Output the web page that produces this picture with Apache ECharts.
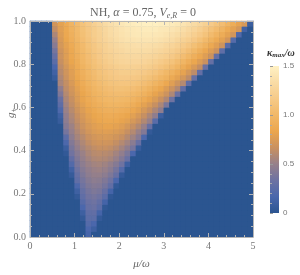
<!DOCTYPE html>
<html>
<head>
<meta charset="utf-8">
<script src="https://cdn.jsdelivr.net/npm/echarts@6/dist/echarts.min.js"></script>
<style>html,body{margin:0;padding:0;background:#fff}#c{width:300px;height:275px}</style>
</head>
<body>
<div id="c"></div>
<script>
// cell centres of the density grid
const muCenters = [0.0625,0.1875,0.3125,0.4375,0.5625,0.6875,0.8125,0.9375,1.0625,1.1875,1.3125,1.4375,1.5625,1.6875,1.8125,1.9375,2.0625,2.1875,2.3125,2.4375,2.5625,2.6875,2.8125,2.9375,3.0625,3.1875,3.3125,3.4375,3.5625,3.6875,3.8125,3.9375,4.0625,4.1875,4.3125,4.4375,4.5625,4.6875,4.8125,4.9375];
const gCenters = [0.0125,0.0375,0.0625,0.0875,0.1125,0.1375,0.1625,0.1875,0.2125,0.2375,0.2625,0.2875,0.3125,0.3375,0.3625,0.3875,0.4125,0.4375,0.4625,0.4875,0.5125,0.5375,0.5625,0.5875,0.6125,0.6375,0.6625,0.6875,0.7125,0.7375,0.7625,0.7875,0.8125,0.8375,0.8625,0.8875,0.9125,0.9375,0.9625,0.9875];
// first non-zero mu cell of every g row (cells outside are 0)
const rowStart = [10,10,10,9,9,9,9,8,8,8,8,7,7,7,7,6,6,6,6,6,6,5,5,5,5,5,5,5,5,4,4,4,4,4,4,4,4,4,4,4];
// kappa_max/omega, row by row from g=0 upwards
const kappaRows = [
[0.15],
[0.17,0.1],
[0.22,0.17],
[0.05,0.25,0.25,0.05],
[0.1,0.27,0.28,0.14],
[0.17,0.3,0.32,0.25,0.03],
[0.23,0.32,0.34,0.29,0.14],
[0.05,0.27,0.35,0.37,0.34,0.25,0.03],
[0.11,0.3,0.37,0.4,0.38,0.31,0.14],
[0.18,0.34,0.4,0.43,0.42,0.37,0.28,0.04],
[0.27,0.37,0.43,0.46,0.45,0.41,0.34,0.17],
[0.06,0.3,0.4,0.46,0.49,0.49,0.46,0.4,0.31,0.06],
[0.12,0.34,0.43,0.48,0.51,0.52,0.5,0.45,0.37,0.22],
[0.21,0.38,0.46,0.51,0.54,0.55,0.53,0.49,0.43,0.34,0.1],
[0.28,0.41,0.49,0.54,0.58,0.59,0.58,0.55,0.5,0.42,0.32],
[0.04,0.35,0.44,0.51,0.57,0.61,0.62,0.61,0.59,0.54,0.48,0.39,0.17],
[0.09,0.38,0.48,0.55,0.6,0.64,0.66,0.66,0.64,0.6,0.54,0.47,0.37,0.07],
[0.18,0.42,0.51,0.58,0.64,0.68,0.7,0.7,0.69,0.65,0.6,0.54,0.45,0.31],
[0.25,0.46,0.55,0.61,0.67,0.71,0.73,0.74,0.73,0.7,0.66,0.6,0.53,0.44,0.18],
[0.37,0.5,0.58,0.65,0.71,0.75,0.77,0.78,0.77,0.75,0.72,0.66,0.6,0.51,0.42,0.05],
[0.43,0.52,0.61,0.68,0.74,0.78,0.8,0.82,0.82,0.8,0.77,0.72,0.66,0.59,0.5,0.31],
[0.07,0.46,0.56,0.64,0.71,0.77,0.81,0.84,0.86,0.86,0.85,0.82,0.79,0.73,0.67,0.59,0.5,0.24],
[0.11,0.48,0.58,0.66,0.73,0.79,0.83,0.86,0.88,0.89,0.88,0.86,0.83,0.79,0.73,0.66,0.57,0.47,0.09],
[0.19,0.51,0.61,0.69,0.76,0.82,0.86,0.9,0.92,0.93,0.93,0.91,0.89,0.85,0.8,0.73,0.66,0.57,0.47],
[0.26,0.54,0.64,0.72,0.79,0.85,0.9,0.93,0.95,0.97,0.97,0.96,0.94,0.91,0.86,0.8,0.74,0.66,0.57,0.39],
[0.31,0.57,0.66,0.75,0.82,0.88,0.92,0.96,0.99,1.0,1.01,1.0,0.99,0.96,0.92,0.88,0.82,0.75,0.67,0.58,0.34],
[0.41,0.6,0.69,0.77,0.83,0.89,0.95,0.98,1.01,1.03,1.04,1.04,1.03,1.01,0.98,0.94,0.89,0.82,0.76,0.68,0.58,0.33],
[0.47,0.63,0.71,0.79,0.86,0.92,0.97,1.01,1.04,1.06,1.08,1.08,1.07,1.06,1.03,1.0,0.95,0.9,0.84,0.76,0.68,0.59,0.28],
[0.56,0.65,0.74,0.82,0.89,0.95,1.0,1.04,1.07,1.1,1.11,1.12,1.12,1.11,1.09,1.06,1.02,0.97,0.92,0.85,0.78,0.69,0.6,0.27],
[0.07,0.58,0.68,0.77,0.84,0.91,0.97,1.02,1.07,1.1,1.13,1.15,1.16,1.16,1.15,1.14,1.11,1.08,1.04,0.99,0.94,0.87,0.8,0.72,0.63,0.3],
[0.12,0.61,0.7,0.78,0.86,0.93,0.99,1.04,1.09,1.12,1.15,1.17,1.19,1.19,1.19,1.18,1.16,1.13,1.1,1.05,1.0,0.94,0.88,0.81,0.72,0.63,0.29],
[0.17,0.63,0.72,0.8,0.88,0.95,1.01,1.07,1.11,1.15,1.18,1.2,1.22,1.23,1.23,1.22,1.21,1.19,1.16,1.12,1.08,1.03,0.97,0.9,0.82,0.74,0.65,0.32],
[0.25,0.66,0.75,0.83,0.9,0.98,1.04,1.09,1.14,1.18,1.21,1.24,1.26,1.27,1.27,1.27,1.26,1.24,1.21,1.18,1.14,1.1,1.04,0.98,0.91,0.84,0.76,0.67,0.3],
[0.31,0.68,0.77,0.85,0.92,0.99,1.05,1.11,1.16,1.2,1.23,1.26,1.28,1.29,1.3,1.3,1.29,1.28,1.26,1.23,1.2,1.16,1.11,1.05,0.99,0.92,0.85,0.77,0.68,0.29],
[0.37,0.69,0.78,0.86,0.94,1.01,1.07,1.13,1.17,1.22,1.25,1.28,1.3,1.32,1.33,1.33,1.33,1.32,1.3,1.28,1.25,1.21,1.17,1.12,1.06,1.0,0.93,0.85,0.77,0.68,0.27],
[0.44,0.72,0.8,0.88,0.95,1.02,1.09,1.14,1.19,1.23,1.27,1.3,1.32,1.34,1.35,1.36,1.36,1.35,1.34,1.32,1.29,1.26,1.22,1.18,1.13,1.07,1.01,0.94,0.86,0.78,0.69,0.24],
[0.5,0.74,0.83,0.91,0.98,1.05,1.11,1.17,1.22,1.26,1.3,1.33,1.36,1.38,1.39,1.4,1.4,1.4,1.39,1.37,1.35,1.32,1.28,1.24,1.2,1.15,1.09,1.02,0.95,0.88,0.8,0.71,0.22],
[0.57,0.76,0.85,0.93,1.0,1.07,1.13,1.19,1.23,1.28,1.32,1.35,1.38,1.4,1.42,1.43,1.43,1.43,1.42,1.41,1.39,1.36,1.33,1.3,1.26,1.21,1.16,1.1,1.03,0.96,0.89,0.8,0.71,0.2],
[0.64,0.78,0.86,0.94,1.01,1.08,1.14,1.19,1.24,1.29,1.33,1.36,1.39,1.41,1.43,1.44,1.45,1.45,1.45,1.43,1.42,1.4,1.37,1.34,1.3,1.26,1.21,1.15,1.09,1.03,0.96,0.88,0.8,0.72,0.12],
[0.7,0.8,0.88,0.96,1.03,1.1,1.16,1.22,1.27,1.32,1.36,1.39,1.42,1.45,1.46,1.48,1.49,1.49,1.49,1.48,1.47,1.45,1.43,1.4,1.36,1.32,1.28,1.23,1.17,1.11,1.05,0.97,0.9,0.81,0.73,0.09]
];
const xTicks = [0,1,2,3,4,5];
const yTicks = [0,0.2,0.4,0.6,0.8,1.0];
const barTicks = [0,0.5,1.0,1.5];
const palette = ['#2b5590','#4a67ac','#6d72a2','#97808a','#c99160','#eba64e','#f1b868','#f6ca88','#f9dca6','#fff1c4'];

const cells = [];
for (let j = 0; j < gCenters.length; j++) {
  for (let i = 0; i < muCenters.length; i++) {
    const k = i - rowStart[j];
    const v = (k >= 0 && k < kappaRows[j].length) ? kappaRows[j][k] : 0;
    cells.push([i, j, v]);
  }
}

const chart = echarts.init(document.getElementById('c'), null, {renderer: 'canvas'});
const serif = "'Liberation Serif','DejaVu Serif',serif";
const tickCol = '#777';
const frameCol = '#b5b5b5';
const gradStops = palette.map((c, k) => ({offset: k / (palette.length - 1), color: c}));

function frameAxis(extra) {
  return Object.assign({
    type: 'value', gridIndex: 0, z: 6,
    axisLine: {show: true, onZero: false, lineStyle: {color: frameCol, width: 1}},
    axisTick: {show: true, inside: true, length: 4, lineStyle: {color: frameCol}},
    minorTick: {show: true, length: 2, lineStyle: {color: frameCol}},
    splitLine: {show: false},
    axisLabel: {show: false}
  }, extra);
}

const tcol = '#666';
chart.setOption({
  animation: false,
  backgroundColor: '#fff',
  title: {
    text: '{n|NH, }{i|α}{n| = 0.75, }{i|V}{s|e,R}{n| = 0}',
    left: 85, top: 1,
    textStyle: {
      fontWeight: 'normal',
      rich: {
        n: {fontFamily: serif, fontSize: 12, fontWeight: 'normal', color: tcol},
        i: {fontFamily: serif, fontSize: 12, fontWeight: 'normal', fontStyle: 'italic', color: tcol},
        s: {fontFamily: serif, fontSize: 8, fontWeight: 'normal', fontStyle: 'italic', color: tcol, verticalAlign: 'bottom', padding: [6, 0, 0, 0]}
      }
    }
  },
  grid: [
    {left: 30, top: 21, width: 223, height: 225, show: true, backgroundColor: palette[0], borderWidth: 0},
    {left: 270, top: 66, width: 9, height: 147, show: true, borderWidth: 0,
     backgroundColor: new echarts.graphic.LinearGradient(0, 1, 0, 0, gradStops)}
  ],
  xAxis: [
    {type: 'category', gridIndex: 0, data: muCenters, position: 'bottom', show: false},
    frameAxis({min: 0, max: 5, interval: 1, position: 'bottom',
      minorTick: {show: true, splitNumber: 5, length: 2, lineStyle: {color: frameCol}},
      axisLabel: {show: true, color: tickCol, fontFamily: serif, fontSize: 10, margin: 4},
      name: 'μ/ω', nameLocation: 'middle', nameGap: 22,
      nameTextStyle: {fontFamily: serif, fontStyle: 'italic', fontSize: 11, color: '#666'}}),
    frameAxis({min: 0, max: 5, interval: 1, position: 'top',
      minorTick: {show: true, splitNumber: 5, length: 2, lineStyle: {color: frameCol}}}),
    {type: 'value', gridIndex: 1, show: false, min: 0, max: 1}
  ],
  yAxis: [
    {type: 'category', gridIndex: 0, data: gCenters, position: 'left', show: false},
    frameAxis({min: 0, max: 1, interval: 0.2, position: 'left',
      minorTick: {show: true, splitNumber: 4, length: 2, lineStyle: {color: frameCol}},
      axisLabel: {show: true, color: tickCol, fontFamily: serif, fontSize: 10, margin: 4,
        formatter: v => v.toFixed(1)}}),
    frameAxis({min: 0, max: 1, interval: 0.2, position: 'right',
      minorTick: {show: true, splitNumber: 4, length: 2, lineStyle: {color: frameCol}}}),
    {type: 'value', gridIndex: 1, min: 0, max: 1.5, interval: 0.5, position: 'right',
      axisLine: {show: false},
      axisTick: {show: true, length: 3, lineStyle: {color: '#999'}},
      minorTick: {show: true, splitNumber: 5, length: 2, lineStyle: {color: '#aaa'}},
      splitLine: {show: false},
      axisLabel: {show: true, color: tickCol, fontFamily: "'Liberation Sans','DejaVu Sans',sans-serif", fontSize: 8, margin: 4,
        formatter: v => (v === 0 ? '0' : v.toFixed(1))}}
  ],
  visualMap: {
    show: false, type: 'continuous', min: 0, max: 1.5, dimension: 2, seriesIndex: 0,
    inRange: {color: palette}
  },
  graphic: [
    {type: 'text', left: 6, top: 108, rotation: Math.PI / 2,
     style: {text: '{i|g}{s|+}', rich: {
       i: {fontFamily: serif, fontStyle: 'italic', fontSize: 11, fill: '#666'},
       s: {fontFamily: serif, fontSize: 8, fill: '#666', verticalAlign: 'bottom', padding: [5, 0, 0, 0]}}}},
    {type: 'text', left: 267, top: 48,
     style: {text: '{i|κ}{s|max}{i|/ω}', rich: {
       i: {fontFamily: serif, fontStyle: 'italic', fontWeight: 'bold', fontSize: 10, fill: '#333'},
       s: {fontFamily: serif, fontStyle: 'italic', fontWeight: 'bold', fontSize: 7, fill: '#333', verticalAlign: 'bottom', padding: [5, 0, 0, 0]}}}}
  ],
  series: [{
    type: 'heatmap', xAxisIndex: 0, yAxisIndex: 0, data: cells,
    itemStyle: {borderWidth: 0},
    emphasis: {disabled: true},
    progressive: 0
  }]
});
</script>
</body>
</html>
